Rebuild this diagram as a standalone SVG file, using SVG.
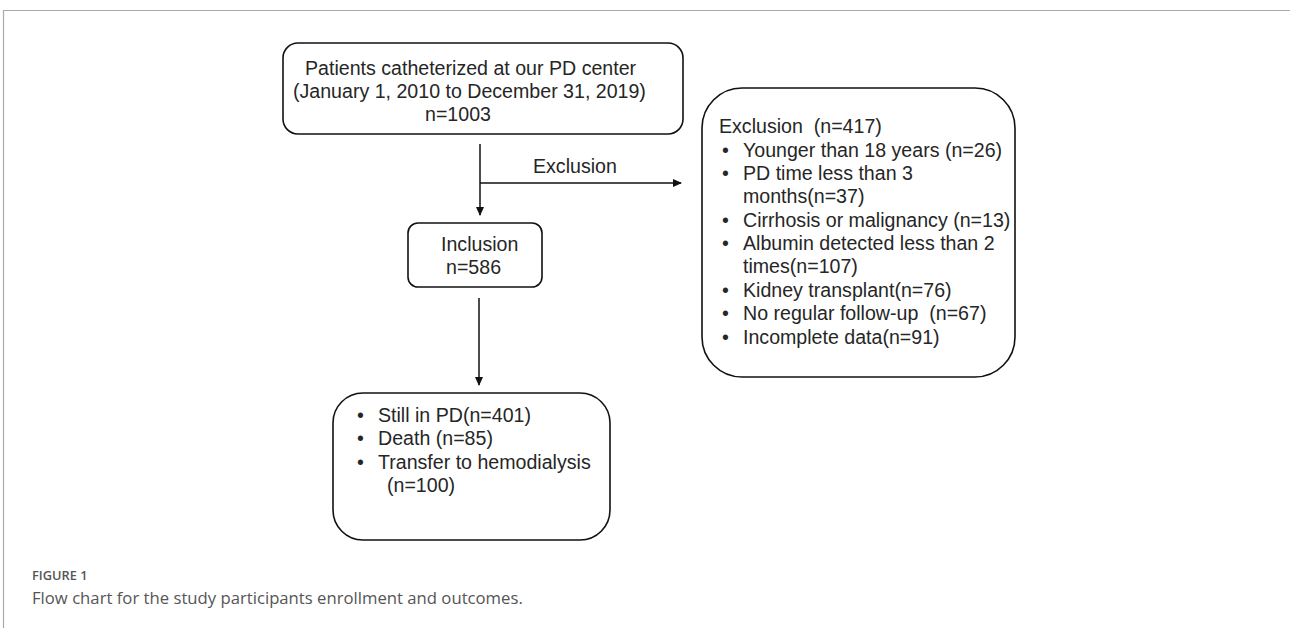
<svg xmlns="http://www.w3.org/2000/svg" width="1290" height="628" viewBox="0 0 1290 628">
<defs>
<style>
.t{font-family:"Liberation Sans",Arial,sans-serif;font-size:19.6px;fill:#262626}
.box{fill:#fff;stroke:#111;stroke-width:1.6}
.ln{stroke:#111;stroke-width:1.5;fill:none}
.cap1{font-family:"Open Sans",sans-serif;font-size:12.8px;font-weight:600;fill:#555}
.cap2{font-family:"Open Sans",sans-serif;font-size:16.7px;fill:#555}
</style>
<marker id="ah" markerWidth="10" markerHeight="10" refX="8" refY="5" orient="auto" markerUnits="userSpaceOnUse">
<path d="M0,1 L9,5 L0,9 Z" fill="#111"/>
</marker>
</defs>
<rect width="1290" height="628" fill="#fff"/>
<path d="M3.5,628 V10.5 H1290" stroke="#aaa" stroke-width="1.2" fill="none"/>
<g id="top">
<rect class="box" x="283" y="43" width="400" height="91" rx="15"/>
<text class="t" x="305" y="75">Patients catheterized at our PD center</text>
<text class="t" x="293" y="98">(January 1, 2010 to December 31, 2019)</text>
<text class="t" x="425" y="121">n=1003</text>
</g>
<g id="inclusion">
<rect class="box" x="408" y="223" width="134" height="64" rx="10"/>
<text class="t" x="441" y="251">Inclusion</text>
<text class="t" x="446" y="274">n=586</text>
</g>
<g id="exclusion">
<rect class="box" x="702" y="88" width="313" height="289" rx="40"/>
<text class="t" x="719" y="133" xml:space="preserve">Exclusion  (n=417)</text>
<g class="t">
<text x="722" y="157">•</text><text x="743" y="157">Younger than 18 years (n=26)</text>
<text x="722" y="180">•</text><text x="743" y="180">PD time less than 3</text>
<text x="743" y="203">months(n=37)</text>
<text x="722" y="227">•</text><text x="743" y="227">Cirrhosis or malignancy (n=13)</text>
<text x="722" y="250">•</text><text x="743" y="250">Albumin detected less than 2</text>
<text x="743" y="273">times(n=107)</text>
<text x="722" y="297">•</text><text x="743" y="297">Kidney transplant(n=76)</text>
<text x="722" y="320">•</text><text x="743" y="320" xml:space="preserve">No regular follow-up  (n=67)</text>
<text x="722" y="344">•</text><text x="743" y="344">Incomplete data(n=91)</text>
</g>
</g>
<g id="outcomes">
<rect class="box" x="333" y="393" width="277" height="147" rx="30"/>
<g class="t">
<text x="357" y="422">•</text><text x="378" y="422">Still in PD(n=401)</text>
<text x="357" y="445">•</text><text x="378" y="445">Death (n=85)</text>
<text x="357" y="469">•</text><text x="378" y="469">Transfer to hemodialysis</text>
<text x="387" y="492">(n=100)</text>
</g>
</g>
<g id="connectors">
<line class="ln" x1="480" y1="144" x2="480" y2="215" marker-end="url(#ah)"/>
<line class="ln" x1="480" y1="183" x2="681" y2="183" marker-end="url(#ah)"/>
<line class="ln" x1="479" y1="298" x2="479" y2="385" marker-end="url(#ah)"/>
<text class="t" x="533" y="173">Exclusion</text>
</g>
<g id="caption">
<text class="cap1" x="32" y="580">FIGURE 1</text>
<text class="cap2" x="32" y="604">Flow chart for the study participants enrollment and outcomes.</text>
</g>
</svg>
